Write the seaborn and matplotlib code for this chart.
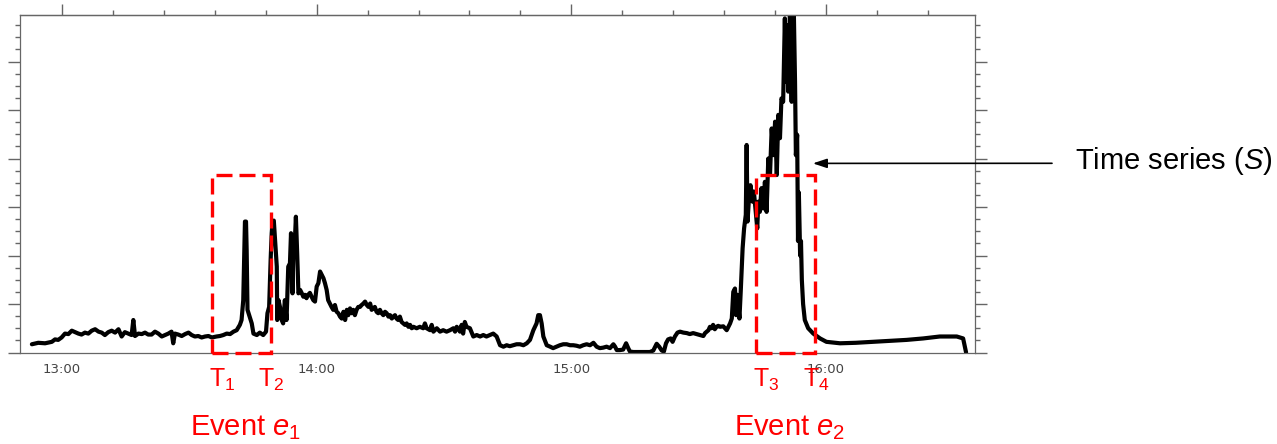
import numpy as np
import pandas as pd
import matplotlib
matplotlib.use("Agg")
import matplotlib.pyplot as plt
import matplotlib.dates as mdates
import matplotlib.patches as patches
from matplotlib.ticker import MultipleLocator, NullFormatter
import seaborn as sns

# signal: minutes after 12:00 and level (axis units)
minutes = [
    52.9, 54.4, 56.0, 57.6, 58.35, 59.1, 59.9, 60.7, 61.5, 62.3, 63.1, 63.85, 64.6, 65.4, 66.2,
    67.0, 67.8, 68.6, 69.35, 70.1, 70.9, 71.7, 72.5, 73.3, 74.05, 74.8, 75.6, 76.4, 76.8, 77.2,
    78.0, 78.8, 79.55, 80.3, 81.1, 81.9, 82.7, 83.5, 84.3, 85.05, 85.8, 86.2, 86.6, 87.4, 88.2,
    89.0, 89.8, 90.55, 91.3, 92.1, 92.9, 93.7, 94.5, 95.3, 96.4, 97.2, 98.0, 98.8, 99.6, 100.4,
    101.15, 101.9, 102.3, 102.7, 102.95, 103.1, 103.35, 103.5, 103.7, 104.1, 104.7, 105.1, 105.9,
    106.6, 107.4, 108.06, 108.4, 108.8, 109.15, 109.4, 109.6, 109.9, 110.2, 110.6, 110.7, 111.0,
    111.35, 111.75, 112.1, 112.5, 112.9, 113.3, 113.7, 113.95, 114.3, 114.5, 114.9, 115.1, 115.4,
    115.7, 116.1, 116.5, 116.85, 117.25, 117.6, 118.0, 118.4, 118.8, 119.2, 119.6, 120.0, 120.4,
    120.8, 121.2, 121.6, 121.95, 122.35, 122.7, 123.1, 123.5, 123.9, 124.3, 124.7, 125.1, 125.5,
    125.9, 126.3, 126.7, 127.1, 127.45, 127.85, 128.25, 128.6, 129.0, 129.4, 129.8, 130.2, 130.6,
    131.0, 131.4, 131.8, 132.2, 132.6, 132.95, 133.3, 133.7, 134.1, 134.5, 134.9, 135.3, 135.7,
    136.1, 136.5, 136.9, 137.3, 137.7, 138.05, 138.45, 138.8, 139.2, 139.6, 140.0, 140.4, 140.8,
    141.2, 141.6, 142.0, 142.4, 142.8, 143.55, 144.3, 145.1, 145.5, 145.9, 146.7, 147.1, 147.5,
    148.3, 149.05, 149.8, 150.6, 151.4, 152.2, 152.6, 153.0, 153.75, 154.15, 154.5, 154.9, 155.3,
    156.1, 156.9, 157.7, 158.5, 159.25, 160.0, 160.8, 161.6, 162.4, 163.2, 164.0, 164.75, 165.5,
    166.3, 167.1, 167.9, 168.7, 169.5, 170.25, 171.05, 171.8, 172.2, 172.6, 173.0, 173.4, 174.2,
    175.0, 175.7, 176.5, 177.3, 178.1, 178.9, 179.7, 180.45, 181.2, 182.0, 182.8, 183.6, 184.4,
    185.2, 185.95, 186.7, 187.5, 188.3, 189.1, 189.9, 190.3, 190.7, 191.45, 192.2, 192.9, 193.4,
    193.8, 194.6, 196.2, 197.7, 198.5, 199.3, 200.1, 200.7, 201.3, 201.8, 202.3, 202.8, 203.4,
    203.85, 204.4, 205.0, 205.6, 206.4, 207.2, 207.9, 208.7, 209.5, 210.3, 211.1, 211.5, 211.9,
    212.3, 212.65, 213.0, 213.4, 213.8, 214.2, 214.6, 215.0, 215.8, 216.6, 217.4, 217.8, 218.15,
    218.55, 218.8, 219.1, 219.6, 219.9, 220.35, 220.7, 221.1, 221.3, 221.5, 221.9, 222.2, 222.7,
    223.0, 223.5, 223.8, 224.05, 224.4, 224.8, 225.2, 225.6, 226.0, 226.4, 226.8, 227.2, 227.6,
    228.0, 228.4, 228.75, 229.15, 229.5, 229.9, 230.3, 230.56, 230.9, 231.1, 231.5, 231.9, 232.1,
    232.4, 232.7, 232.9, 233.2, 233.4, 233.6, 233.9, 234.1, 234.3, 234.6, 235.0, 235.8, 237.0,
    238.6, 240.1, 243.3, 247.0, 251.1, 255.0, 259.0, 262.9, 266.8, 270.8, 272.3, 273.0,
]
level = [
    0.17, 0.20, 0.19, 0.22, 0.27, 0.26, 0.31, 0.39, 0.38, 0.45, 0.42, 0.39, 0.37, 0.41, 0.39,
    0.45, 0.48, 0.43, 0.41, 0.36, 0.42, 0.45, 0.41, 0.48, 0.33, 0.42, 0.39, 0.36, 0.67, 0.34,
    0.39, 0.38, 0.41, 0.37, 0.37, 0.43, 0.39, 0.33, 0.36, 0.39, 0.43, 0.19, 0.39, 0.37, 0.34,
    0.38, 0.41, 0.36, 0.33, 0.34, 0.31, 0.33, 0.34, 0.31, 0.33, 0.34, 0.36, 0.39, 0.38, 0.43,
    0.46, 0.57, 0.67, 1.08, 2.11, 2.70, 2.70, 2.11, 0.88, 0.77, 0.60, 0.39, 0.36,
    0.41, 0.36, 0.43, 0.81, 0.94, 1.91, 2.46, 2.70, 2.72, 2.32, 1.77, 0.67, 1.08,
    0.94, 0.67, 0.60, 1.08, 0.67, 1.77, 1.84, 2.46, 1.22, 2.11, 2.39, 2.80, 2.05,
    1.22, 1.29, 1.22, 1.15, 1.19, 1.12, 1.19, 1.23, 1.15, 1.08, 1.05, 1.36, 1.43,
    1.67, 1.60, 1.53, 1.43, 1.29, 1.08, 1.01, 0.94, 0.88, 0.98, 0.84, 0.81, 0.74,
    0.70, 0.84, 0.67, 0.88, 0.77, 0.91, 0.81, 0.88, 0.77, 0.88, 0.94, 0.94, 0.98,
    1.01, 1.05, 0.98, 0.94, 1.01, 0.88, 0.91, 0.94, 0.84, 0.81, 0.88, 0.81, 0.77,
    0.84, 0.81, 0.74, 0.77, 0.70, 0.74, 0.77, 0.70, 0.67, 0.74, 0.63, 0.60, 0.57,
    0.60, 0.53, 0.57, 0.50, 0.53, 0.50, 0.53, 0.50, 0.60, 0.50, 0.46, 0.57, 0.43,
    0.50, 0.43, 0.46, 0.43, 0.46, 0.50, 0.43, 0.53, 0.43, 0.57, 0.39, 0.63, 0.53,
    0.50, 0.33, 0.36, 0.33, 0.36, 0.33, 0.36, 0.39, 0.33, 0.15, 0.12, 0.15, 0.13,
    0.15, 0.17, 0.17, 0.15, 0.19, 0.26, 0.46, 0.60, 0.77, 0.77, 0.60, 0.33, 0.15,
    0.12, 0.09, 0.12, 0.15, 0.17, 0.17, 0.15, 0.15, 0.14, 0.12, 0.15, 0.17, 0.15,
    0.20, 0.12, 0.09, 0.10, 0.12, 0.09, 0.17, 0.12, 0.05, 0.05, 0.06, 0.19, 0.09,
    0.02, 0.01, 0.01, 0.01, 0.01, 0.04, 0.18, 0.12, 0.04, 0.02, 0.19, 0.27, 0.29,
    0.22, 0.33, 0.41, 0.43, 0.41, 0.40, 0.38, 0.40, 0.38, 0.36, 0.34, 0.40, 0.43,
    0.46, 0.53, 0.50, 0.57, 0.48, 0.53, 0.55, 0.53, 0.54, 0.46, 0.60, 0.70, 1.25,
    1.32, 0.77, 1.19, 0.70, 1.25, 2.15, 2.56, 2.84, 4.28, 2.70, 3.25, 3.45, 3.11,
    3.32, 2.84, 2.56, 3.11, 2.90, 3.39, 2.97, 3.52, 2.90, 4.00, 3.66, 4.62, 4.07,
    4.76, 3.66, 4.90, 4.42, 5.24, 5.17, 6.89, 5.58, 6.75, 5.38, 7.10, 5.17, 6.75,
    7.10, 5.58, 4.07, 4.49, 2.30, 3.30, 2.00, 2.30, 1.50, 1.00, 0.67, 0.50, 0.39,
    0.29, 0.22, 0.19, 0.20, 0.22, 0.24, 0.26, 0.29, 0.33, 0.33, 0.29, 0.00,
]

# events (minutes after 12:00)
event_names = ["e_1", "e_2"]
event_start = [95.3, 223.5]
event_end = [109.2, 237.4]
event_top = 3.66
bound_names = ["T_1", "T_2", "T_3", "T_4"]
series_label = "Time series ($S$)"
arrow_target = (236.9, 3.90)

day = pd.Timestamp("2015-06-01 12:00")
def to_time(m):
    return day + pd.to_timedelta(m, unit="min")

df = pd.DataFrame({"time": to_time(np.array(minutes)), "level": level})

sns.set_style("white")
plt.rcParams["font.family"] = ["Liberation Sans", "DejaVu Sans"]
plt.rcParams["mathtext.fontset"] = "custom"
plt.rcParams["mathtext.rm"] = "Liberation Sans"
plt.rcParams["mathtext.it"] = "Liberation Sans:italic"

W, H = 1277, 444
fig = plt.figure(figsize=(W / 100, H / 100), dpi=100)
ax = fig.add_axes([20 / W, 1 - 352.5 / H, 955 / W, 337.5 / H])

sns.lineplot(data=df, x="time", y="level", color="black", lw=3.0,
             estimator=None, sort=False, ax=ax)

ax.set_xlim(to_time(50.1), to_time(275.1))
ax.set_ylim(0, 6.96)
ax.set_xlabel("")
ax.set_ylabel("")

spine_c = "#666666"
for s in ax.spines.values():
    s.set_color(spine_c)
    s.set_linewidth(0.9)

ax.xaxis.set_major_locator(mdates.HourLocator())
ax.xaxis.set_minor_locator(mdates.MinuteLocator(byminute=[12, 24, 36, 48]))
ax.xaxis.set_major_formatter(mdates.DateFormatter("%H:%M"))
ax.yaxis.set_major_locator(MultipleLocator(1))
ax.yaxis.set_minor_locator(MultipleLocator(0.25))
ax.yaxis.set_major_formatter(NullFormatter())

ax.tick_params(axis="x", which="major", direction="out", length=5.8, width=1.0,
               color=spine_c, labelcolor="#444444", labelsize=9.5, pad=1.5,
               labelfontfamily="DejaVu Sans")
ax.tick_params(axis="x", which="minor", direction="out", length=4, width=1.0, color=spine_c)
ax.tick_params(axis="y", which="major", direction="out", length=8.4, width=1.0,
               color=spine_c, left=True, right=True)
ax.tick_params(axis="y", which="minor", direction="out", length=3.6, width=1.0,
               color=spine_c, left=True, right=True)

top = ax.secondary_xaxis("top")
top.xaxis.set_major_locator(mdates.HourLocator())
top.xaxis.set_minor_locator(mdates.MinuteLocator(byminute=[12, 24, 36, 48]))
top.xaxis.set_major_formatter(NullFormatter())
top.spines["top"].set_color(spine_c)
top.spines["top"].set_linewidth(0.9)
top.tick_params(axis="x", which="major", direction="out", length=8, width=1.0, color=spine_c)
top.tick_params(axis="x", which="minor", direction="out", length=3.6, width=1.0, color=spine_c)

red = "#ff0000"
for i, (a, b) in enumerate(zip(event_start, event_end)):
    x0 = mdates.date2num(to_time(a))
    x1 = mdates.date2num(to_time(b))
    rect = patches.Rectangle((x0, 0), x1 - x0, event_top, fill=False, edgecolor=red,
                             lw=2.4, linestyle=(0, (4.8, 2.1)), clip_on=False, zorder=5)
    ax.add_patch(rect)
    ax.annotate(f"Event ${event_names[i]}$", xy=((x0 + x1) / 2, 0), xycoords="data",
                xytext=(3, -59.4), textcoords="offset points", ha="center", va="baseline",
                fontsize=21, color=red, annotation_clip=False)
    for x, dx, name in [(x0, -2.2, bound_names[2 * i]), (x1, -8.9, bound_names[2 * i + 1])]:
        ax.annotate(f"${name}$".replace("$T", "T$"), xy=(x, 0), xycoords="data",
                    xytext=(dx, -24.8), textcoords="offset points", ha="left", va="baseline",
                    fontsize=18, color=red, annotation_clip=False)

fig.text(1075 / W, 1 - 169 / H, series_label, fontsize=21, color="black",
         ha="left", va="baseline")
ax.annotate("", xy=(mdates.date2num(to_time(arrow_target[0])), arrow_target[1]),
            xycoords="data", xytext=(1052 / W, 1 - 163.3 / H), textcoords="figure fraction",
            arrowprops=dict(arrowstyle="-|>,head_length=0.6,head_width=0.2",
                            mutation_scale=14, color="black", lw=1.2,
                            shrinkA=0, shrinkB=0),
            annotation_clip=False)

fig.savefig("out.png", dpi=100)
